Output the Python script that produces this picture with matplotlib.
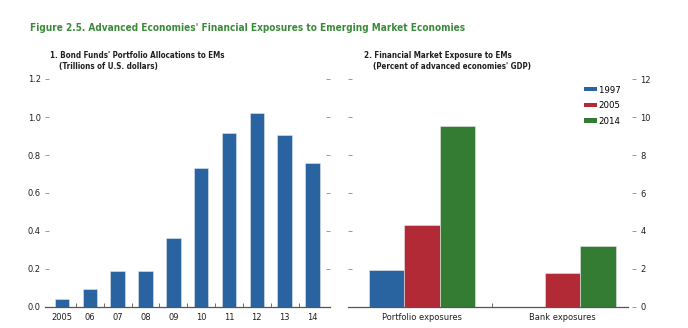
import numpy as np
import matplotlib
matplotlib.use("Agg")
import matplotlib.pyplot as plt
from matplotlib.patches import Patch

# panel 1: bond funds' portfolio allocations to EMs (trillions of US$)
years = ["2005", "06", "07", "08", "09", "10", "11", "12", "13", "14"]
bond_alloc = [0.042, 0.095, 0.187, 0.187, 0.363, 0.734, 0.916, 1.019, 0.907, 0.758]

# panel 2: financial market exposure to EMs (percent of AE GDP)
groups = ["Portfolio exposures", "Bank exposures"]
series_names = ["1997", "2005", "2014"]
exp_1997 = [1.93, np.nan]
exp_2005 = [4.29, 1.79]
exp_2014 = [9.55, 3.22]

BLUE = "#2a64a0"
RED = "#b22a35"
GREEN = "#347b34"
TITLE_GREEN = "#3b8a3a"
TXT = "#231f20"

plt.rcParams['font.family'] = ['DejaVu Sans']
plt.rcParams['font.stretch'] = 'condensed'
plt.rcParams['font.size'] = 6.7

fig = plt.figure(figsize=(6.88, 3.28), dpi=100)

fig.text(30 / 688, 1 - 30.7 / 328,
         "Figure 2.5. Advanced Economies' Financial Exposures to Emerging Market Economies",
         color=TITLE_GREEN, fontsize=7.2, fontweight='bold', va='baseline', ha='left')

sub_fs = 5.8
fig.text(50 / 688, 1 - 58.3 / 328, "1. Bond Funds' Portfolio Allocations to EMs",
         fontsize=sub_fs, fontweight='bold', color=TXT, va='baseline')
fig.text(59 / 688, 1 - 69.2 / 328, "(Trillions of U.S. dollars)",
         fontsize=sub_fs, fontweight='bold', color=TXT, va='baseline')
fig.text(364 / 688, 1 - 58.3 / 328, "2. Financial Market Exposure to EMs",
         fontsize=sub_fs, fontweight='bold', color=TXT, va='baseline')
fig.text(373 / 688, 1 - 69.2 / 328, "(Percent of advanced economies' GDP)",
         fontsize=sub_fs, fontweight='bold', color=TXT, va='baseline')

y0 = 21 / 328
h = 228 / 328
ax1 = fig.add_axes([45 / 688, y0, 285 / 688, h])
ax2 = fig.add_axes([348 / 688, y0, 288 / 688, h])


def style_axes(ax):
    for s in ['top', 'left', 'right']:
        ax.spines[s].set_visible(False)
    ax.spines['bottom'].set_color("#555555")
    ax.spines['bottom'].set_linewidth(0.9)
    ax.tick_params(axis='y', direction='in', length=3, width=0.6, color="#888888",
                   labelcolor=TXT, left=True, right=True, pad=3)
    ax.tick_params(axis='x', which='major', length=0, labelcolor=TXT, pad=4)
    ax.tick_params(axis='x', which='minor', direction='in', length=3, width=0.6,
                   color="#555555")


# left panel
x1 = np.arange(len(years))
ax1.bar(x1, bond_alloc, width=0.52, color=BLUE, edgecolor="#dfe6ef", linewidth=0.4)
ax1.set_xlim(-0.61, 9.63)
ax1.set_ylim(0, 1.2)
ax1.set_yticks(np.arange(0, 1.21, 0.2))
ax1.set_yticklabels(["%.1f" % v for v in np.arange(0, 1.21, 0.2)])
ax1.set_xticks(x1)
ax1.set_xticklabels(years)
ax1.set_xticks(x1[:-1] + 0.5, minor=True)
style_axes(ax1)
ax1.tick_params(axis='y', labelleft=True, labelright=False)

# right panel
x2 = np.arange(len(groups))
bw = 0.25
for off, vals, col in [(-bw, exp_1997, BLUE), (0, exp_2005, RED), (bw, exp_2014, GREEN)]:
    ax2.bar(x2 + off, vals, width=bw, color=col, edgecolor="#e8e8e8", linewidth=0.4)
ax2.set_xlim(-0.525, 1.52)
ax2.set_ylim(0, 12)
ax2.set_yticks(np.arange(0, 13, 2))
ax2.set_xticks(x2)
ax2.set_xticklabels(groups)
ax2.set_xticks([0.5], minor=True)
style_axes(ax2)
ax2.tick_params(axis='y', labelleft=False, labelright=True)
ax2.spines['bottom'].set_bounds(-0.525, 1.46)

handles = [Patch(facecolor=c, edgecolor='none') for c in (BLUE, RED, GREEN)]
ax2.legend(handles, series_names, loc='upper left', bbox_to_anchor=(0.795, 1.0),
           frameon=False, fontsize=6.8, handlelength=1.4, handleheight=0.35,
           handletextpad=0.2, labelspacing=0.7, borderaxespad=0.3)

fig.savefig("out.png", dpi=100)
